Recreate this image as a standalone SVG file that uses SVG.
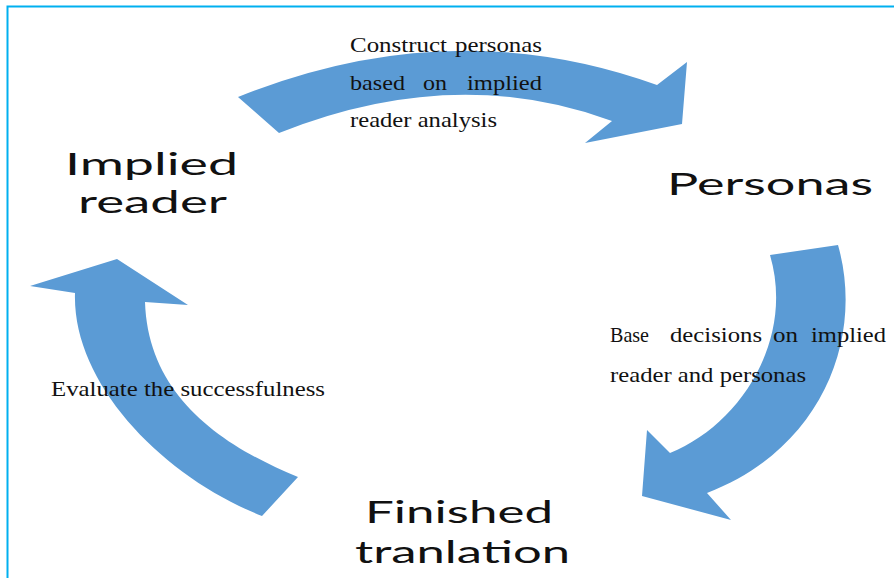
<svg xmlns="http://www.w3.org/2000/svg" width="894" height="578" viewBox="0 0 894 578">
  <style>
    .arrow { fill: #5b9bd5; stroke: none; }
    .node { font-family: Lato, "Open Sans", "DejaVu Sans", sans-serif; font-size: 31px; fill: #111; }
    .lbl { font-family: "Liberation Serif", "Times New Roman", serif; font-size: 21px; fill: #111; }
  </style>
  <rect x="0" y="0" width="894" height="578" fill="#ffffff"/>
  <path d="M7.5,578 V6.5 H894" fill="none" stroke="#00b0f0" stroke-width="2"/>

  <g id="connectors">
    <g id="arrow-top">
      <path class="arrow" d="M238,97 Q452,11 657,85 L687,62 L682,124 L585,143 L612,121 Q454,63 279,133 Z"/>
      <text class="lbl" x="350" y="52" textLength="97" lengthAdjust="spacingAndGlyphs">Construct</text>
      <text class="lbl" x="455" y="52" textLength="87" lengthAdjust="spacingAndGlyphs">personas</text>
      <text class="lbl" x="350" y="90" textLength="55" lengthAdjust="spacingAndGlyphs">based</text>
      <text class="lbl" x="423" y="90" textLength="24" lengthAdjust="spacingAndGlyphs">on</text>
      <text class="lbl" x="467" y="90" textLength="75" lengthAdjust="spacingAndGlyphs">implied</text>
      <text class="lbl" x="350" y="127" textLength="147" lengthAdjust="spacingAndGlyphs">reader analysis</text>
    </g>
    <g id="arrow-right">
      <path class="arrow" d="M838,245 C865,340 820,450 707,493 L731,520 L642,496 L647,430 L670,453 C740,425 795,340 770,255 Z"/>
      <text class="lbl" x="610" y="342" textLength="39" lengthAdjust="spacingAndGlyphs">Base</text>
      <text class="lbl" x="670" y="342" textLength="92" lengthAdjust="spacingAndGlyphs">decisions</text>
      <text class="lbl" x="773" y="342" textLength="25" lengthAdjust="spacingAndGlyphs">on</text>
      <text class="lbl" x="811" y="342" textLength="75" lengthAdjust="spacingAndGlyphs">implied</text>
      <text class="lbl" x="610" y="382" textLength="196" lengthAdjust="spacingAndGlyphs">reader and personas</text>
    </g>
    <g id="arrow-left">
      <path class="arrow" d="M262,516 C165,478 72,385 75,293 L30,286 L117,259 L188,305 L145,302 C148,395 220,445 298,477 Z"/>
      <text class="lbl" x="51" y="396" textLength="274" lengthAdjust="spacingAndGlyphs">Evaluate the successfulness</text>
    </g>
  </g>

  <g id="node-implied-reader">
    <text class="node" x="65" y="175" textLength="173" lengthAdjust="spacingAndGlyphs">Implied</text>
    <text class="node" x="78" y="213" textLength="149" lengthAdjust="spacingAndGlyphs">reader</text>
  </g>
  <g id="node-personas">
    <text class="node" x="667" y="195" textLength="206" lengthAdjust="spacingAndGlyphs">Personas</text>
  </g>
  <g id="node-finished">
    <text class="node" x="365" y="523" textLength="188" lengthAdjust="spacingAndGlyphs">Finished</text>
    <text class="node" x="355" y="563" textLength="215" lengthAdjust="spacingAndGlyphs">tranlation</text>
  </g>
</svg>
